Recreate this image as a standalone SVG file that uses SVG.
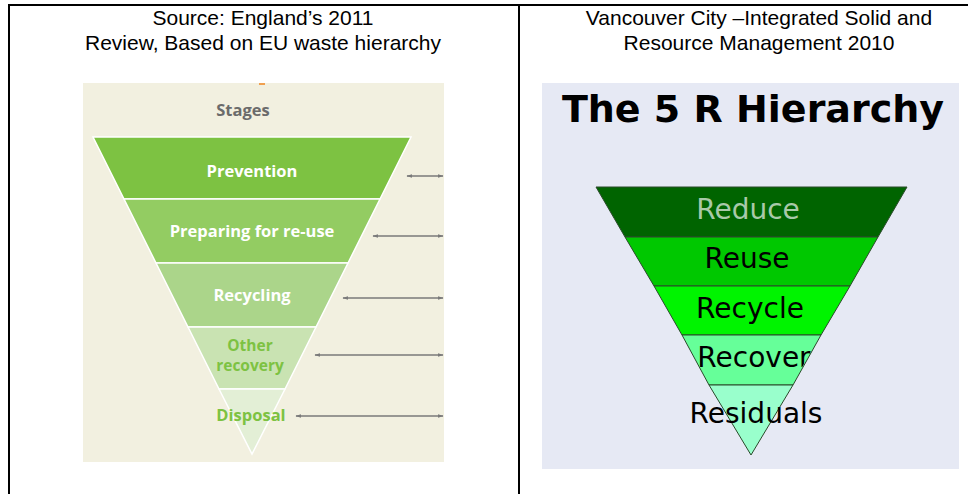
<svg xmlns="http://www.w3.org/2000/svg" width="968" height="494" viewBox="0 0 968 494">
<style>
.hdr{font-family:"Liberation Sans",Arial,sans-serif;font-size:21px;fill:#000;text-anchor:middle}
.eu{font-family:"Open Sans","Liberation Sans",sans-serif;font-weight:bold;font-size:16.5px;text-anchor:middle}
.sm{font-size:15.5px}
.w{fill:#ffffff}
.g{fill:#7dc242}
.r5{font-family:"DejaVu Sans",Verdana,sans-serif;font-size:28px;text-anchor:middle;fill:#000}
.arr{stroke:#7a7a7a;stroke-width:1.3;fill:none;marker-start:url(#ah);marker-end:url(#ah)}
.band{stroke:#ffffff;stroke-width:1.5}
.band5{stroke:#2a4a2a;stroke-width:1}
</style>
<defs>
<marker id="ah" viewBox="0 0 10 10" refX="9" refY="5" markerWidth="6" markerHeight="6" orient="auto-start-reverse" markerUnits="userSpaceOnUse">
<path d="M0,2 L10,5 L0,8 z" fill="#7a7a7a"/>
</marker>
<clipPath id="tri5"><polygon points="596,187 907,187 751,455"/></clipPath>
</defs>
<rect width="968" height="494" fill="#ffffff"/>
<g id="frame">
<line x1="8" y1="5" x2="968" y2="5" stroke="#000" stroke-width="2"/>
<line x1="9" y1="4" x2="9" y2="494" stroke="#000" stroke-width="2"/>
<line x1="519" y1="4" x2="519" y2="494" stroke="#000" stroke-width="2"/>
</g>
<g id="headers">
<text class="hdr" x="263" y="25">Source: England’s 2011</text>
<text class="hdr" x="263" y="50">Review, Based on EU waste hierarchy</text>
<text class="hdr" x="759" y="25">Vancouver City –Integrated Solid and</text>
<text class="hdr" x="759" y="50">Resource Management 2010</text>
</g>
<g id="eu-panel">
<rect x="83" y="83" width="361" height="379" fill="#f2f0e0"/>
<rect x="259" y="83" width="6" height="2" fill="#f0a050"/>
<text x="243" y="116" style="font-family:'Open Sans','Liberation Sans',sans-serif;font-weight:bold;font-size:16.5px;fill:#6b6b6b;text-anchor:middle">Stages</text>
</g>
<g id="eu-prevention">
<polygon class="band" points="93,137 411,137 380,199 124,199" fill="#7dc242"/>
<text class="eu w" x="252" y="177">Prevention</text>
</g>
<g id="eu-preparing">
<polygon class="band" points="124,199 380,199 348,263 156,263" fill="#93cc62"/>
<text class="eu w" x="252" y="237">Preparing for re-use</text>
</g>
<g id="eu-recycling">
<polygon class="band" points="156,263 348,263 316,327 188,327" fill="#abd58a"/>
<text class="eu w" x="252" y="301">Recycling</text>
</g>
<g id="eu-other">
<polygon class="band" points="188,327 316,327 285,389 219,389" fill="#c9e3b2"/>
<text class="eu sm g" x="250" y="351">Other</text>
<text class="eu sm g" x="250" y="371">recovery</text>
</g>
<g id="eu-disposal">
<polygon points="219,389 285,389 252,454" fill="#e3efd6" stroke="#ffffff" stroke-width="1.5"/>
<text class="eu g" x="251" y="421">Disposal</text>
</g>
<g id="connectors">
<line class="arr" x1="407" y1="176" x2="443" y2="176"/>
<line class="arr" x1="373" y1="236" x2="443" y2="236"/>
<line class="arr" x1="343" y1="298" x2="443" y2="298"/>
<line class="arr" x1="315" y1="355" x2="443" y2="355"/>
<line class="arr" x1="296" y1="416" x2="443" y2="416"/>
</g>
<g id="r5-panel">
<rect x="542" y="83" width="417" height="386" fill="#e6e9f4"/>
<text x="753" y="122" style="font-family:'DejaVu Sans',Verdana,sans-serif;font-weight:bold;font-size:38px;fill:#000;text-anchor:middle">The 5 R Hierarchy</text>
</g>
<g id="r5-reduce">
<polygon class="band5" points="596,187 907,187 878,237 625,237" fill="#006400"/>
<text class="r5" x="748" y="219" style="fill:#a9c9a9">Reduce</text>
</g>
<g id="r5-reuse">
<polygon class="band5" points="625,237 878,237 850,286 654,286" fill="#00c800"/>
<text class="r5" x="747" y="268">Reuse</text>
</g>
<g id="r5-recycle">
<polygon class="band5" points="654,286 850,286 821,335 682,335" fill="#00f400"/>
<text class="r5" x="750" y="318">Recycle</text>
</g>
<g id="r5-recover">
<polygon class="band5" points="682,335 821,335 793,385 709,385" fill="#66ff99"/>
<text class="r5" x="754" y="367" clip-path="url(#tri5)">Recover</text>
</g>
<g id="r5-residuals">
<polygon class="band5" points="709,385 793,385 751,455" fill="#99ffcc"/>
<text class="r5" x="756" y="423">Residuals</text>
</g>
</svg>
